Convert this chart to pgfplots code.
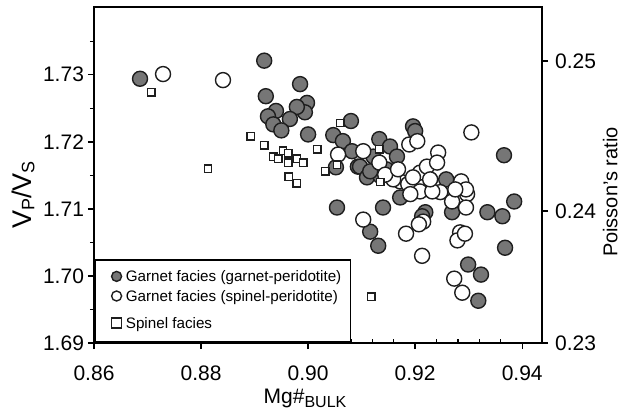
\documentclass[border=0pt]{standalone}
\usepackage{fontspec}
\setmainfont{Liberation Sans}
\usepackage{pgfplots}
\pgfplotsset{compat=1.18}
\definecolor{fillg}{RGB}{118,118,118}
\definecolor{edge}{RGB}{30,30,30}

\begin{document}
\begin{tikzpicture}
\useasboundingbox (-47pt,-35pt) rectangle (263pt,171.5pt);
\begin{axis}[
  at={(0,0)}, anchor=south west,
  scale only axis, width=224pt, height=168pt,
  xmin=0.86, xmax=0.9437, ymin=1.69, ymax=1.7401,
  xtick={0.86,0.88,0.90,0.92,0.94},
  ytick={1.69,1.70,1.71,1.72,1.73},
  minor xtick={0.864,0.868,0.872,0.876,0.884,0.888,0.892,0.896,0.904,0.908,0.912,0.916,0.924,0.928,0.932,0.936},
  minor ytick={1.695,1.705,1.715,1.725,1.735},
  xtick pos=bottom, ytick pos=left,
  tick align=outside,
  major tick length=3pt, minor tick length=2pt,
  minor x tick style={yshift=2pt},
  tick style={line width=0.7pt, color=black},
  axis line style={line width=1pt},
  /pgf/number format/.cd, fixed, fixed zerofill, precision=2, assume math mode=true,
  /pgfplots/.cd,
  ticklabel style={font=\fontsize{10.5}{12}\selectfont},
  xticklabel style={yshift=-5pt},
  yticklabel style={xshift=1.5pt},
  xlabel={Mg\#{\fontsize{8}{8}\selectfont\raisebox{-2.2pt}{BULK}}},
  xlabel style={font=\fontsize{10.5}{12}\selectfont, at={(axis description cs:0.471,-0.179)}, anchor=base},
  ylabel={V{\fontsize{9}{9}\selectfont\raisebox{-1.5pt}{P}}/V{\fontsize{9}{9}\selectfont\raisebox{-1.5pt}{S}}},
  ylabel style={font=\fontsize{13.5}{14}\selectfont, at={(axis description cs:-0.158,0.44)}, anchor=center},
  legend style={at={(axis description cs:0,0)}, anchor=south west, draw=black, line width=0.8pt,
    font=\fontsize{7.6}{9}\selectfont, inner xsep=3.5pt, inner ysep=4.5pt,
    cells={anchor=base west}, nodes={inner xsep=1pt, inner ysep=1pt}, row sep=0.8pt, column sep=1.15pt},
  legend image code/.code={\path (0pt,0pt); \draw[#1, mark size=2.5pt] plot coordinates {(7pt,2.7pt)};},
]
\addplot[only marks, mark=*, mark size=3.75pt, mark options={fill=fillg, draw=edge, line width=0.7pt}] table {
x y
0.8686 1.7294
0.8918 1.7321
0.8921 1.7268
0.8985 1.7286
0.8998 1.7258
0.8994 1.7244
0.8979 1.7252
0.8940 1.7246
0.8925 1.7238
0.8966 1.7234
0.8935 1.7226
0.8950 1.7217
0.9000 1.7211
0.9047 1.7210
0.9065 1.7201
0.9080 1.7231
0.9082 1.7186
0.9052 1.7162
0.9093 1.7163
0.9196 1.7223
0.9200 1.7216
0.9133 1.7204
0.9153 1.7193
0.9166 1.7178
0.9122 1.7178
0.9097 1.7163
0.9110 1.7147
0.9135 1.7149
0.9116 1.7156
0.9146 1.7159
0.9172 1.7117
0.9054 1.7102
0.9140 1.7102
0.9219 1.7095
0.9366 1.7180
0.9258 1.7144
0.9269 1.7095
0.9335 1.7095
0.9363 1.7089
0.9385 1.7111
0.9116 1.7066
0.9131 1.7045
0.9213 1.7089
0.9368 1.7042
0.9299 1.7017
0.9323 1.7002
0.9318 1.6963
};
\addlegendentry{Garnet facies (garnet-peridotite)}
\addplot[only marks, mark=*, mark size=3.75pt, mark options={fill=white, draw=edge, line width=0.7pt}] table {
x y
0.8729 1.7301
0.8841 1.7292
0.9056 1.7181
0.9103 1.7186
0.9133 1.7169
0.9189 1.7196
0.9204 1.7201
0.9172 1.7141
0.9159 1.7144
0.9187 1.7137
0.9209 1.7154
0.9222 1.7163
0.9209 1.7126
0.9191 1.7122
0.9103 1.7084
0.9215 1.7081
0.9305 1.7214
0.9243 1.7184
0.9241 1.7169
0.9286 1.7141
0.9247 1.7125
0.9297 1.7122
0.9269 1.7111
0.9295 1.7102
0.9232 1.7126
0.9183 1.7063
0.9207 1.7077
0.9213 1.7030
0.9284 1.7065
0.9279 1.7053
0.9293 1.7063
0.9273 1.6996
0.9288 1.6975
0.9228 1.7144
0.9295 1.7129
0.9275 1.7129
0.9144 1.7151
0.9196 1.7147
0.9168 1.7159
};
\addlegendentry{Garnet facies (spinel-peridotite)}
\addplot[only marks, mark=square*, mark size=1.85pt, mark options={fill=white, draw=edge, line width=0.7pt}] table {
x y
0.8707 1.7274
0.8893 1.7208
0.8918 1.7195
0.8935 1.7178
0.8944 1.7175
0.8953 1.7187
0.8963 1.7183
0.8963 1.7169
0.8979 1.7175
0.8991 1.7169
0.8964 1.7148
0.8979 1.7138
0.8813 1.7160
0.9017 1.7189
0.9032 1.7156
0.9060 1.7228
0.9133 1.7189
0.9135 1.7140
0.9054 1.7166
0.9118 1.6969
};
\addlegendentry{\rule{0pt}{9.1pt}Spinel facies}
\end{axis}
\begin{axis}[
  at={(0,0)}, anchor=south west,
  scale only axis, width=224pt, height=168pt,
  xmin=0.86, xmax=0.9437, ymin=1.69, ymax=1.7401,
  axis line style={draw=none},
  xtick=\empty,
  ytick={1.69,1.709701,1.732051},
  yticklabels={0.23,0.24,0.25},
  ytick pos=right, tick align=outside, major tick length=3pt,
  tick style={line width=0.7pt, color=black},
  ticklabel style={font=\fontsize{10.5}{12}\selectfont},
  ylabel={Poisson's ratio},
  ylabel style={font=\fontsize{10}{12}\selectfont, at={(axis description cs:1.12,0.449)}, anchor=north},
]
\end{axis}
\end{tikzpicture}
\end{document}
